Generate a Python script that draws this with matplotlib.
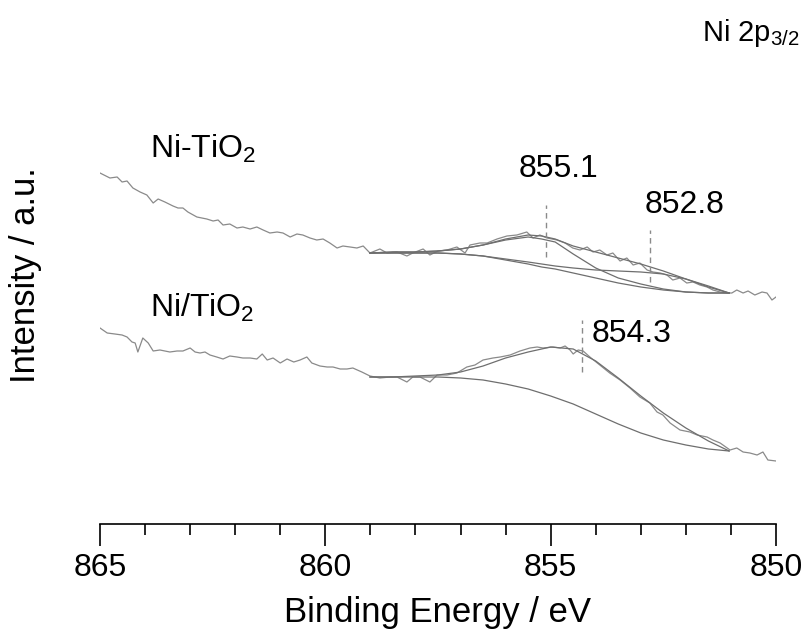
import matplotlib
matplotlib.use("Agg")
import matplotlib.pyplot as plt
from matplotlib.ticker import MultipleLocator

plt.rcParams['font.family'] = ['Liberation Sans', 'DejaVu Sans']
plt.rcParams['mathtext.fontset'] = 'custom'
plt.rcParams['mathtext.rm'] = 'Liberation Sans'
plt.rcParams['mathtext.default'] = 'regular'

# --- Ni-TiO2 (upper spectrum): binding energy (eV) / intensity (a.u.)
be_top = [865.00, 864.78, 864.62, 864.51, 864.40, 864.27, 864.11, 863.96, 863.82, 863.71,
          863.56, 863.38, 863.27, 863.16, 863.05, 862.85, 862.74, 862.63, 862.49, 862.38,
          862.27, 862.12, 861.96, 861.83, 861.67, 861.52, 861.38, 861.23, 861.07, 860.94,
          860.78, 860.63, 860.50, 860.34, 860.19, 860.05, 859.90, 859.74, 859.61, 859.45,
          859.30, 859.16, 859.01, 858.79, 858.63, 858.41, 858.19, 858.06, 857.83, 857.68,
          857.50, 857.30, 857.08, 856.90, 856.79, 856.57, 856.41, 856.19, 855.97, 855.75,
          855.53, 855.39, 855.24, 855.08, 854.86, 854.68, 854.51, 854.35, 854.19, 854.06,
          853.91, 853.75, 853.62, 853.46, 853.31, 853.17, 853.02, 852.86, 852.73, 852.57,
          852.42, 852.29, 852.13, 851.98, 851.84, 851.69, 851.53, 851.40, 851.24, 851.09,
          850.98, 850.87, 850.73, 850.62, 850.47, 850.31, 850.20, 850.09, 850.00]
int_top = [351, 346, 347, 342, 343, 336, 332, 329, 321, 325,
           322, 318, 316, 316, 312, 307, 306, 305, 303, 304,
           299, 300, 296, 297, 295, 297, 294, 291, 292, 291,
           287, 290, 289, 286, 284, 285, 281, 276, 278, 277,
           276, 278, 271, 275, 271, 272, 268, 271, 275, 269,
           273, 274, 277, 271, 279, 281, 281, 285, 288, 289,
           292, 286, 289, 286, 284, 281, 276, 274, 277, 272,
           274, 269, 271, 263, 266, 259, 261, 254, 252, 251,
           249, 244, 246, 241, 242, 239, 237, 234, 232, 231,
           231, 234, 231, 233, 229, 232, 231, 224, 227]

# upper fit curves
be_fit_top = [859.01, 858.50, 858.00, 857.50, 857.00, 856.50, 856.00, 855.50, 855.20,
              854.90, 854.50, 854.00, 853.50, 853.00, 852.50, 852.00, 851.50, 851.04]
env_top = [271, 272, 272, 273, 275, 279, 285, 289, 288,
           285, 278, 272, 266, 260, 253, 245, 237, 231]
base_top = [271, 271, 271, 271, 270, 268, 264, 260, 257,
            255, 251, 246, 241, 237, 234, 232, 231, 231]
comp1_top = [271, 272, 272, 273, 275, 279, 284, 287, 285,
             282, 270, 256, 246, 240, 235, 232, 231, 231]
comp2_top = [271, 271, 271, 271, 270, 268, 265, 262, 260,
             258, 256, 254, 253, 252, 250, 245, 238, 231]

# --- Ni/TiO2 (lower spectrum)
be_bot = [865.00, 864.84, 864.67, 864.51, 864.40, 864.29, 864.22, 864.16, 864.05, 863.93,
          863.82, 863.67, 863.45, 863.29, 863.16, 863.00, 862.89, 862.78, 862.67, 862.56,
          862.41, 862.27, 862.12, 861.96, 861.83, 861.67, 861.52, 861.40, 861.29, 861.16,
          861.00, 860.85, 860.70, 860.56, 860.41, 860.30, 860.12, 859.96, 859.83, 859.67,
          859.52, 859.39, 859.19, 859.01, 858.79, 858.56, 858.41, 858.19, 858.06, 857.90,
          857.68, 857.52, 857.30, 857.08, 856.86, 856.68, 856.50, 856.28, 856.12, 855.90,
          855.68, 855.46, 855.30, 855.17, 854.95, 854.79, 854.68, 854.57, 854.50, 854.39,
          854.28, 854.13, 853.91, 853.69, 853.46, 853.24, 853.02, 852.80, 852.64, 852.51,
          852.35, 852.13, 851.91, 851.75, 851.53, 851.40, 851.24, 851.02, 850.87, 850.73,
          850.58, 850.42, 850.29, 850.18, 850.00]
int_bot = [196, 191, 190, 189, 187, 182, 181, 172, 186, 181,
           173, 174, 172, 173, 173, 176, 172, 171, 172, 169,
           167, 165, 168, 167, 166, 166, 165, 170, 164, 166,
           161, 165, 162, 164, 167, 161, 158, 157, 157, 155,
           155, 156, 152, 148, 146, 147, 147, 142, 147, 147,
           142, 149, 149, 151, 157, 159, 164, 166, 167, 169,
           173, 176, 177, 176, 177, 176, 178, 174, 170, 174,
           173, 167, 159, 151, 144, 136, 127, 121, 112, 109,
           101, 94, 92, 89, 87, 84, 81, 74, 76, 72,
           71, 69, 72, 64, 63]

# lower fit curves
be_fit_bot = [859.01, 858.50, 858.00, 857.50, 857.00, 856.50, 856.00, 855.50, 855.00,
              854.50, 854.00, 853.50, 853.00, 852.50, 852.00, 851.50, 851.04]
env_bot = [147, 147, 148, 149, 152, 158, 166, 172, 177,
           175, 163, 146, 128, 111, 96, 83, 73]
base_bot = [147, 147, 147, 147, 146, 144, 140, 135, 128,
            120, 110, 100, 91, 84, 79, 75, 73]

# peak positions (eV) and the intensity range of their markers
peak_top = [855.1, 852.8]
peak_top_span = [(267, 319), (242, 294)]
peak_bot = [854.3]
peak_bot_span = [(152, 204)]

fig = plt.figure(figsize=(8.08, 6.34), dpi=100)
ax = fig.add_axes([100 / 808, 110 / 634, 676 / 808, 424 / 634])

data_col = '#8a8a8a'
fit_col = '#6e6e6e'

ax.plot(be_top, int_top, color=data_col, lw=0.9)
ax.plot(be_bot, int_bot, color=data_col, lw=0.9)
for curve in [base_top, comp1_top, comp2_top, env_top]:
    ax.plot(be_fit_top, curve, color=fit_col, lw=0.9)
for curve in [base_bot, env_bot]:
    ax.plot(be_fit_bot, curve, color=fit_col, lw=0.9)

for pk, (y0, y1) in zip(peak_top + peak_bot, peak_top_span + peak_bot_span):
    ax.plot([pk, pk], [y0, y1], color='#8a8a8a', lw=1.0, ls=(0, (4, 3)))

fs = 23
ax.text(863.9, 366, 'Ni-TiO$_2$', fontsize=fs, ha='left', va='baseline')
ax.text(863.9, 207, 'Ni/TiO$_2$', fontsize=fs, ha='left', va='baseline')
ax.text(854.82, 347, '855.1', fontsize=fs, ha='center', va='baseline')
ax.text(852.04, 311, '852.8', fontsize=fs, ha='center', va='baseline')
ax.text(853.20, 182, '854.3', fontsize=fs, ha='center', va='baseline')
fig.text(800 / 808, 1 - 41 / 634, 'Ni 2p$_{3/2}$', fontsize=21, ha='right', va='baseline')

ax.set_xlim(865, 850)
ax.set_ylim(0, 424)
for s in ['left', 'right', 'top']:
    ax.spines[s].set_visible(False)
ax.spines['bottom'].set_linewidth(1.2)
ax.set_yticks([])
ax.xaxis.set_major_locator(MultipleLocator(5))
ax.xaxis.set_minor_locator(MultipleLocator(1))
ax.tick_params(axis='x', which='major', direction='out', length=16, width=1.2,
               labelsize=fs, pad=5)
ax.tick_params(axis='x', which='minor', direction='out', length=8, width=1.2)
ax.set_xlabel('Binding Energy / eV', fontsize=25, labelpad=9)
ax.set_ylabel('Intensity / a.u.', fontsize=25)
ax.yaxis.set_label_coords(-0.086, 0.587)

fig.savefig('out.png', dpi=100)
